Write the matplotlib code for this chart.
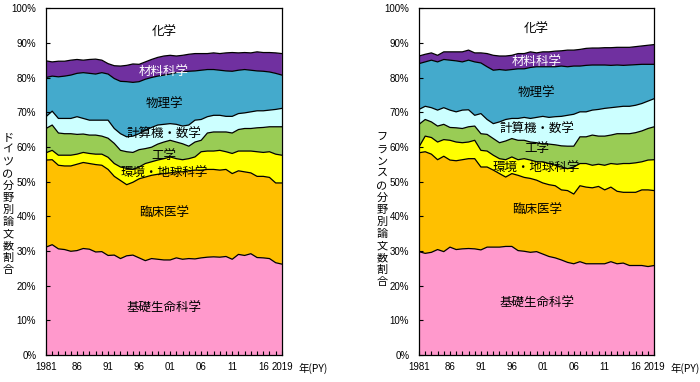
import matplotlib
matplotlib.use("Agg")
import matplotlib.pyplot as plt
import numpy as np

plt.rcParams['font.family'] = ['Noto Sans CJK JP', 'DejaVu Sans']

years = list(range(1981, 2020))
tick_years = [1981, 1986, 1991, 1996, 2001, 2006, 2011, 2016, 2019]
tick_labels = ["1981", "86", "91", "96", "01", "06", "11", "16", "2019"]

fields = ["基礎生命科学", "臨床医学", "環境・地球科学", "工学",
          "計算機・数学", "物理学", "材料科学", "化学"]
colors = ["#FF99CC", "#FFC000", "#FFFF00", "#99CC55",
          "#CCFFFF", "#44AACC", "#7030A0", "#FFFFFF"]
label_colors = ["black", "black", "black", "black",
                "black", "black", "white", "black"]

# cumulative upper edge (%) of each field
# Germany
de_life = [31.1, 31.8, 30.6, 30.4, 29.9, 30.1, 30.7, 30.5, 29.7, 29.8,
           28.7, 28.8, 27.8, 28.6, 28.8, 28.0, 27.2, 27.8, 27.6, 27.4,
           27.4, 28.0, 27.6, 27.8, 27.7, 28.0, 28.2, 28.3, 28.2, 28.4,
           27.6, 29.0, 28.7, 29.2, 28.1, 28.0, 27.8, 26.6, 26.2]
de_clin = [56.2, 56.3, 54.7, 54.5, 54.5, 55.0, 55.5, 55.2, 54.9, 54.7,
           53.5, 51.5, 50.3, 49.1, 49.8, 50.8, 51.3, 51.8, 52.1, 52.3,
           52.5, 52.8, 52.8, 53.1, 53.3, 53.3, 53.5, 53.5, 53.3, 53.5,
           52.3, 53.1, 52.8, 52.5, 51.5, 51.5, 51.2, 49.6, 49.6]
de_env = [58.3, 59.0, 57.6, 57.6, 57.6, 57.9, 58.4, 58.1, 57.9, 57.9,
          57.0, 55.2, 54.2, 53.8, 53.5, 54.2, 55.2, 55.7, 56.2, 56.6,
          57.1, 56.6, 56.3, 56.6, 57.1, 58.6, 58.8, 58.8, 59.0, 58.6,
          58.1, 58.8, 58.8, 58.8, 58.6, 58.4, 58.6, 57.9, 57.6]
de_eng = [65.3, 66.3, 64.0, 63.8, 63.8, 63.6, 63.7, 63.4, 63.4, 63.1,
          62.5, 61.0, 59.0, 58.6, 58.4, 59.2, 59.5, 59.9, 60.8, 61.4,
          61.9, 61.4, 60.9, 60.2, 61.4, 61.9, 64.0, 64.3, 64.3, 64.3,
          64.0, 65.0, 65.3, 65.3, 65.5, 65.6, 65.8, 65.8, 65.8]
de_comp = [68.7, 70.3, 68.2, 68.2, 68.2, 68.7, 68.2, 67.7, 67.7, 67.7,
           67.7, 65.3, 63.8, 62.9, 63.1, 63.8, 64.8, 65.6, 66.3, 66.5,
           66.7, 66.5, 66.0, 66.3, 67.7, 67.9, 68.7, 69.1, 69.1, 68.8,
           68.8, 69.6, 69.8, 70.1, 70.4, 70.4, 70.6, 70.8, 71.1]
de_phys = [80.0, 80.4, 80.2, 80.4, 80.7, 81.2, 81.4, 81.2, 81.0, 81.4,
           81.0, 79.7, 78.9, 78.8, 78.6, 78.8, 79.5, 80.0, 80.4, 80.7,
           81.0, 81.4, 81.6, 81.8, 81.9, 82.1, 82.3, 82.3, 82.1, 81.9,
           81.8, 82.1, 82.3, 82.1, 81.9, 81.8, 81.6, 81.2, 80.7]
de_mat = [84.8, 84.5, 84.7, 84.7, 85.0, 85.2, 85.0, 85.2, 85.3, 85.0,
          84.0, 83.4, 83.3, 83.5, 83.9, 83.8, 84.5, 85.2, 85.8, 86.2,
          86.4, 86.2, 86.4, 86.7, 86.9, 86.9, 86.9, 87.1, 86.9, 87.1,
          87.2, 87.1, 87.2, 87.1, 87.4, 87.2, 87.2, 87.1, 86.9]

# France
fr_life = [29.8, 29.3, 29.6, 30.4, 29.8, 31.1, 30.4, 30.6, 30.7, 30.6,
           30.3, 31.1, 31.1, 31.1, 31.3, 31.3, 30.1, 29.9, 29.6, 29.8,
           29.1, 28.4, 28.0, 27.4, 26.7, 26.3, 26.9, 26.3, 26.3, 26.3,
           26.3, 26.9, 26.3, 26.5, 25.8, 25.8, 25.8, 25.5, 25.8]
fr_clin = [58.3, 58.6, 57.9, 56.3, 57.3, 56.2, 56.0, 56.3, 56.6, 56.6,
           54.2, 54.2, 53.3, 52.3, 51.3, 52.3, 51.8, 51.2, 50.9, 50.4,
           49.6, 49.1, 48.8, 47.6, 47.4, 46.4, 48.8, 48.4, 48.2, 48.6,
           47.6, 48.4, 47.2, 46.9, 46.9, 46.9, 47.6, 47.6, 47.4]
fr_env = [60.0, 63.1, 62.7, 61.4, 62.1, 61.9, 61.4, 61.2, 61.4, 61.9,
          59.0, 58.8, 57.6, 56.6, 56.3, 57.1, 56.3, 56.6, 56.2, 55.7,
          55.7, 55.2, 54.7, 54.2, 53.7, 54.2, 55.2, 55.2, 54.7, 55.0,
          54.7, 55.2, 55.0, 55.2, 55.2, 55.4, 55.7, 56.2, 56.3]
fr_eng = [66.5, 67.9, 67.2, 66.0, 66.5, 65.6, 65.5, 65.3, 65.8, 66.0,
          63.8, 63.6, 62.4, 61.2, 61.7, 62.4, 61.9, 61.9, 61.4, 61.2,
          60.8, 60.8, 60.6, 60.3, 60.2, 60.2, 62.9, 62.9, 63.4, 63.1,
          63.1, 63.4, 63.8, 63.8, 63.8, 64.1, 64.6, 65.3, 65.8]
fr_comp = [70.8, 71.7, 71.3, 70.6, 71.3, 70.6, 70.1, 70.6, 70.7, 69.1,
           69.6, 67.9, 66.7, 67.2, 67.9, 68.2, 68.2, 68.5, 68.2, 68.5,
           68.8, 68.5, 68.7, 68.8, 69.1, 69.4, 70.1, 70.1, 70.6, 70.8,
           71.1, 71.3, 71.5, 71.7, 71.7, 72.0, 72.5, 73.2, 73.9]
fr_phys = [84.0, 84.5, 85.0, 84.5, 85.2, 85.0, 84.8, 84.5, 85.0, 84.5,
           84.2, 83.1, 82.1, 82.3, 82.1, 82.3, 82.5, 82.5, 82.9, 83.1,
           83.1, 83.1, 83.1, 83.3, 83.1, 83.3, 83.3, 83.5, 83.6, 83.6,
           83.6, 83.5, 83.6, 83.5, 83.6, 83.7, 83.8, 83.8, 83.8]
fr_mat = [86.2, 86.7, 87.1, 86.4, 87.4, 87.4, 87.4, 87.4, 87.9, 87.1,
          87.1, 86.9, 86.4, 86.2, 86.2, 86.4, 86.9, 86.9, 87.4, 87.1,
          87.4, 87.4, 87.6, 87.7, 87.9, 87.9, 88.1, 88.4, 88.5, 88.5,
          88.6, 88.6, 88.7, 88.7, 88.7, 88.9, 89.1, 89.3, 89.5]

# label positions (year, %) for each field
de_label_pos = [(2000, 13.6), (2000, 40.8), (2000, 52.3), (2000, 57.5),
                (2000, 63.5), (2000, 72.3), (2000, 81.4), (2000, 93.0)]
fr_label_pos = [(2000, 14.8), (2000, 41.6), (2000, 53.7), (2000, 59.5),
                (2000, 65.0), (2000, 75.3), (2000, 84.3), (2000, 93.8)]

tick_font = ['Liberation Sans', 'DejaVu Sans']
W, H = 700, 382


def draw(ax, tops, label_pos, ylabel, ylabel_x):
    x = np.array(years)
    edges = [np.zeros(len(x))] + [np.array(t) for t in tops] + [np.full(len(x), 100.0)]
    for i in range(len(fields)):
        ax.fill_between(x, edges[i], edges[i + 1], facecolor=colors[i],
                        edgecolor="none", linewidth=0)
    for e in edges[1:-1]:
        ax.plot(x, e, color="black", lw=0.9)
    for i, (px, py) in enumerate(label_pos):
        ax.text(px, py, fields[i], ha="center", va="center", fontsize=9,
                color=label_colors[i])

    ax.set_xlim(1981, 2019)
    ax.set_ylim(0, 100)
    ax.set_xticks(years)
    ax.set_xticklabels([tick_labels[tick_years.index(y)] if y in tick_years else ""
                        for y in years])
    ax.set_yticks(range(0, 101, 10))
    ax.set_yticklabels([f"{v}%" for v in range(0, 101, 10)])
    ax.tick_params(axis="x", direction="in", length=3, width=0.8,
                   labelsize=7, pad=5)
    ax.tick_params(axis="y", direction="in", length=3, width=0.8,
                   labelsize=7, pad=7)
    for lab in ax.get_xticklabels() + ax.get_yticklabels():
        lab.set_family(tick_font)
    for s in ax.spines.values():
        s.set_linewidth(0.9)
    ax.text(2021.7, -0.022, "年(PY)", transform=ax.get_xaxis_transform(),
            ha="left", va="top", fontsize=7.5)
    # vertical y label, one character per line
    for k, ch in enumerate(ylabel):
        fig.text(ylabel_x / W, 1 - (138 + 12 * k) / H, ch, ha="center",
                 va="center", fontsize=8)


fig = plt.figure(figsize=(7, 3.82), dpi=100)
ax1 = fig.add_axes([0.0657, 0.0707, 0.337, 0.908])
ax2 = fig.add_axes([0.5986, 0.0707, 0.336, 0.908])

draw(ax1, [de_life, de_clin, de_env, de_eng, de_comp, de_phys, de_mat],
     de_label_pos, "ドイツの分野別論文数割合", 8)
draw(ax2, [fr_life, fr_clin, fr_env, fr_eng, fr_comp, fr_phys, fr_mat],
     fr_label_pos, "フランスの分野別論文数割合", 382)

fig.savefig("out.png", dpi=100)
